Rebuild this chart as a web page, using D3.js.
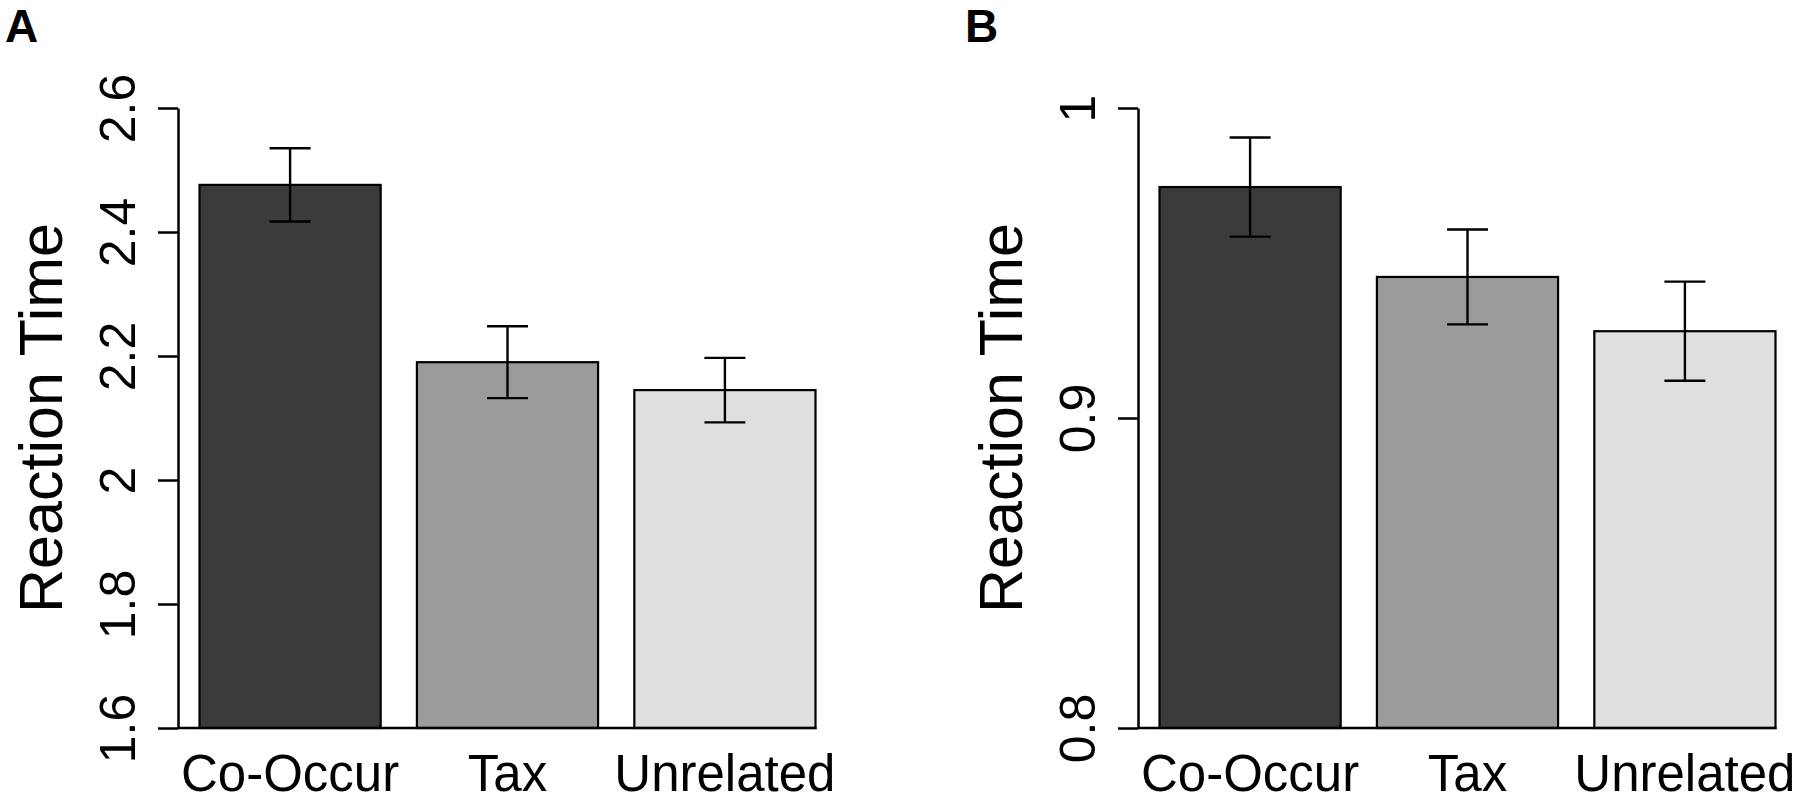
<!DOCTYPE html>
<html>
<head>
<meta charset="utf-8">
<script src="https://cdn.jsdelivr.net/npm/d3@7"></script>
<style>
  html, body { margin: 0; padding: 0; background: #fff; }
  svg { display: block; font-family: "Liberation Sans", Arial, sans-serif; }
</style>
</head>
<body>
<svg id="chart" width="1800" height="801"></svg>
<script>
// ---- data ----
const categories = ["Co-Occur", "Tax", "Unrelated"];
const barColors = ["#3b3b3b", "#9b9b9b", "#dfdfdf"];

const meansA = [2.476, 2.190, 2.145];
const seA = [0.059, 0.058, 0.052];
const ticksA = [1.6, 1.8, 2.0, 2.2, 2.4, 2.6];
const tickLabelsA = ["1.6", "1.8", "2", "2.2", "2.4", "2.6"];
const domainA = [1.6, 2.6];

const meansB = [0.9745, 0.9455, 0.928];
const seB = [0.016, 0.0153, 0.016];
const ticksB = [0.8, 0.9, 1.0];
const tickLabelsB = ["0.8", "0.9", "1"];
const domainB = [0.8, 1.0];

const yLabel = "Reaction Time";

// ---- drawing ----
const svg = d3.select("#chart");

function panel(letter, offsetX, means, se, ticks, tickLabels, domain) {
  const g = svg.append("g").attr("transform", `translate(${offsetX},0)`);
  const axisX = 178;
  const y = d3.scaleLinear().domain(domain).range([728, 108]);
  const x = d3.scaleBand().domain(categories).range([199.5, 815.5])
    .paddingInner(0.2 / 1.2).paddingOuter(0);

  // panel letter
  g.append("text").attr("x", 5).attr("y", 42)
    .attr("font-size", 46).attr("font-weight", "bold").attr("fill", "#000")
    .text(letter);

  // bars
  g.selectAll("rect.bar").data(categories).enter().append("rect")
    .attr("class", "bar")
    .attr("x", d => x(d))
    .attr("width", x.bandwidth())
    .attr("y", (d, i) => y(means[i]))
    .attr("height", (d, i) => y(domain[0]) - y(means[i]))
    .attr("fill", (d, i) => barColors[i])
    .attr("stroke", "#000").attr("stroke-width", 2.2);

  // baseline
  g.append("line")
    .attr("x1", axisX).attr("x2", x(categories[categories.length - 1]) + x.bandwidth() + 1)
    .attr("y1", y(domain[0])).attr("y2", y(domain[0]))
    .attr("stroke", "#000").attr("stroke-width", 2.5);

  // error bars
  const cap = 20.5;
  categories.forEach((c, i) => {
    const cx = x(c) + x.bandwidth() / 2;
    const hi = y(means[i] + se[i]), lo = y(means[i] - se[i]);
    g.append("line").attr("x1", cx).attr("x2", cx).attr("y1", hi).attr("y2", lo)
      .attr("stroke", "#000").attr("stroke-width", 2.4);
    g.append("line").attr("x1", cx - cap).attr("x2", cx + cap).attr("y1", hi).attr("y2", hi)
      .attr("stroke", "#000").attr("stroke-width", 2.4);
    g.append("line").attr("x1", cx - cap).attr("x2", cx + cap).attr("y1", lo).attr("y2", lo)
      .attr("stroke", "#000").attr("stroke-width", 2.4);
  });

  // y axis via d3.axisLeft
  const axis = d3.axisLeft(y).tickValues(ticks)
    .tickFormat((d, i) => tickLabels[i]).tickSize(20).tickSizeOuter(0);
  const ag = g.append("g").attr("transform", `translate(${axisX},0)`).call(axis);
  ag.select(".domain").attr("stroke", "#000").attr("stroke-width", 2.5);
  ag.selectAll(".tick line").attr("stroke", "#000").attr("stroke-width", 2.5);
  ag.selectAll(".tick text")
    .attr("x", null).attr("dy", null)
    .attr("transform", "translate(-43,0) rotate(-90)")
    .attr("text-anchor", "middle")
    .attr("font-size", 50)
    .attr("font-family", "Liberation Sans, Arial, sans-serif")
    .attr("fill", "#000");

  // x category labels
  g.selectAll("text.xlab").data(categories).enter().append("text")
    .attr("class", "xlab")
    .attr("x", d => x(d) + x.bandwidth() / 2)
    .attr("y", 791)
    .attr("text-anchor", "middle")
    .attr("font-size", 51)
    .attr("fill", "#000")
    .text(d => d);

  // y axis title
  g.append("text")
    .attr("transform", `translate(${axisX - 116},418) rotate(-90)`)
    .attr("text-anchor", "middle")
    .attr("font-size", 61)
    .attr("fill", "#000")
    .text(yLabel);
}

panel("A", 0, meansA, seA, ticksA, tickLabelsA, domainA);
panel("B", 960, meansB, seB, ticksB, tickLabelsB, domainB);
</script>
</body>
</html>
